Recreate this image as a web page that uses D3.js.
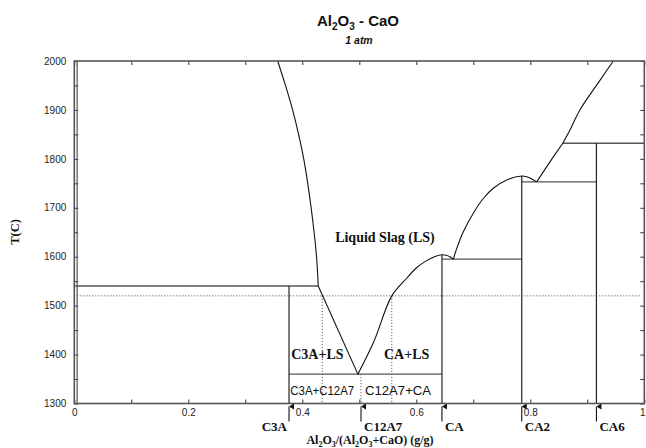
<!DOCTYPE html>
<html>
<head>
<meta charset="utf-8">
<script src="https://cdn.jsdelivr.net/npm/d3@7"></script>
<style>
  body { margin: 0; background: #fff; }
  svg { display: block; }
</style>
</head>
<body>
<svg id="chart" width="646" height="448"></svg>
<script>
// ---- Al2O3 - CaO phase diagram (1 atm) ----

// axis ticks
const xMajorTicks = [0, 0.2, 0.4, 0.6, 0.8, 1];
const xMinorTicks = [0.1, 0.3, 0.5, 0.7, 0.9];
const xTickLabels = ["0", "0.2", "0.4", "0.6", "0.8", "1"];
const yMajorTicks = [1300, 1400, 1500, 1600, 1700, 1800, 1900, 2000];
const yMinorTicks = [1350, 1450, 1550, 1650, 1750, 1850, 1950];
const yTickLabels = ["1300", "1400", "1500", "1600", "1700", "1800", "1900", "2000"];

// compounds: name, Al2O3 mass fraction, top of the solid line (C)
const compoundNames = ["C3A", "C12A7", "CA", "CA2", "CA6"];
const compoundX = [0.3767, 0.503, 0.645, 0.785, 0.916];
const compoundTop = [1540, 1360, 1604, 1765, 1832];

// liquidus branches [composition, temperature]
const caoLiquidus = [[0.3568, 2000], [0.3705, 1950], [0.3830, 1900], [0.3935, 1850],
  [0.4025, 1800], [0.4095, 1750], [0.4155, 1700], [0.4207, 1650], [0.4250, 1600],
  [0.428, 1540]];
const c3aLiquidus = [[0.428, 1540], [0.4975, 1360]];
const caLiquidus = [[0.4975, 1360], [0.525, 1425], [0.557, 1520], [0.583, 1556],
  [0.600, 1577], [0.618, 1592], [0.632, 1600], [0.645, 1604], [0.652, 1603],
  [0.659, 1600], [0.665, 1595]];
const ca2Liquidus = [[0.665, 1595], [0.671, 1617], [0.6825, 1651], [0.700, 1689],
  [0.7175, 1719], [0.735, 1740], [0.7586, 1757], [0.785, 1765], [0.7937, 1763.5],
  [0.8025, 1759], [0.8112, 1753]];
const ca6Liquidus = [[0.8112, 1753], [0.8403, 1804], [0.857, 1832]];
const aluminaLiquidus = [[0.857, 1832], [0.8696, 1859], [0.887, 1900],
  [0.9225, 1961], [0.9456, 2000]];

// invariant (horizontal) lines: from, to, temperature
const invariantFrom = [0, 0.3767, 0.645, 0.785, 0.857];
const invariantTo = [0.428, 0.645, 0.785, 0.916, 1];
const invariantT = [1540, 1360, 1595, 1753, 1832];

// dotted guides at 1520 C
const guideT = 1520;
const guideX = [0.435, 0.557];

// ---- scales ----
const svg = d3.select("#chart");
const x = d3.scaleLinear().domain([0, 1]).range([74.3, 644.3]);
const y = d3.scaleLinear().domain([1300, 2000]).range([403.5, 61]);

const sans = "'Liberation Sans', Arial, sans-serif";
const serif = "'Liberation Serif', 'Times New Roman', serif";

// ---- axes (ticks pointing inward) ----
const xAll = xMajorTicks.concat(xMinorTicks).sort(d3.ascending);
const yAll = yMajorTicks.concat(yMinorTicks).sort(d3.ascending);
const xFmt = d => { const i = xMajorTicks.indexOf(d); return i >= 0 ? xTickLabels[i] : ""; };
const yFmt = d => { const i = yMajorTicks.indexOf(d); return i >= 0 ? yTickLabels[i] : ""; };

function styleAxis(g) {
  g.select(".domain").remove();
  g.selectAll(".tick line").attr("stroke", "#333").attr("stroke-width", 1);
  g.selectAll(".tick text").attr("fill", "#222").style("font-family", sans).style("font-size", "10px");
}

const xAxisG = svg.append("g").attr("transform", `translate(0,${y(1300)})`)
  .call(d3.axisBottom(x).tickValues(xAll).tickSize(-4).tickPadding(5).tickFormat(xFmt))
  .call(styleAxis);
// keep the last label inside the page
xAxisG.selectAll(".tick text").filter(d => d === 1).attr("dx", -2);

svg.append("g").attr("transform", `translate(0,${y(2000)})`)
  .call(d3.axisTop(x).tickValues(xAll).tickSize(-4).tickFormat(""))
  .call(styleAxis);
svg.append("g").attr("transform", `translate(${x(0)},0)`)
  .call(d3.axisLeft(y).tickValues(yAll).tickSize(-4).tickPadding(8).tickFormat(yFmt))
  .call(styleAxis);
svg.append("g").attr("transform", `translate(${x(1)},0)`)
  .call(d3.axisRight(y).tickValues(yAll).tickSize(-4).tickFormat(""))
  .call(styleAxis);

// ---- dotted guides ----
const dotted = svg.append("g").attr("stroke", "#444").attr("stroke-width", 1)
  .attr("stroke-dasharray", "1,2").attr("fill", "none");
dotted.append("line").attr("x1", x(0) + 3).attr("x2", x(1) - 4)
  .attr("y1", y(guideT)).attr("y2", y(guideT));
guideX.forEach(g => {
  dotted.append("line").attr("x1", x(g)).attr("x2", x(g))
    .attr("y1", y(guideT)).attr("y2", y(1300));
});
// C12A7 below the eutectic
dotted.append("line").attr("x1", x(compoundX[1])).attr("x2", x(compoundX[1]))
  .attr("y1", y(compoundTop[1])).attr("y2", y(1300));

// ---- invariant lines ----
const inv = svg.append("g").attr("stroke", "#555").attr("stroke-width", 1.4);
invariantT.forEach((t, i) => {
  inv.append("line").attr("x1", x(invariantFrom[i])).attr("x2", x(invariantTo[i]))
    .attr("y1", y(t)).attr("y2", y(t));
});

// ---- compound solid lines ----
const solids = svg.append("g").attr("stroke", "#222").attr("stroke-width", 1.2);
compoundNames.forEach((n, i) => {
  if (n === "C12A7") return;
  solids.append("line").attr("x1", x(compoundX[i])).attr("x2", x(compoundX[i]))
    .attr("y1", y(1300)).attr("y2", y(compoundTop[i]));
});
// pure CaO side
solids.append("line").attr("x1", x(0.005)).attr("x2", x(0.005))
  .attr("y1", y(1300)).attr("y2", y(2000)).attr("stroke", "#555");

// ---- liquidus ----
const smoothY = d3.line().x(d => x(d[0])).y(d => y(d[1])).curve(d3.curveMonotoneY);
const smooth = d3.line().x(d => x(d[0])).y(d => y(d[1])).curve(d3.curveCatmullRom.alpha(0.5));
const straight = d3.line().x(d => x(d[0])).y(d => y(d[1]));
const liq = svg.append("g").attr("fill", "none").attr("stroke", "#111").attr("stroke-width", 1.1);
liq.append("path").attr("d", smoothY(caoLiquidus));
liq.append("path").attr("d", straight(c3aLiquidus));
liq.append("path").attr("d", smooth(caLiquidus));
liq.append("path").attr("d", smooth(ca2Liquidus));
liq.append("path").attr("d", straight(ca6Liquidus));
liq.append("path").attr("d", smooth(aluminaLiquidus));

// ---- frame ----
svg.append("rect").attr("x", x(0)).attr("y", y(2000))
  .attr("width", x(1) - x(0)).attr("height", y(1300) - y(2000))
  .attr("fill", "none").attr("stroke", "#555").attr("stroke-width", 1.6);

// ---- phase-field labels ----
const bold = (sel, size) => sel.style("font-family", serif).style("font-weight", "bold")
  .style("font-size", size + "px").attr("fill", "#111").attr("text-anchor", "middle");
svg.append("text").attr("x", x(0.545)).attr("y", y(1631)).text("Liquid Slag (LS)").call(bold, 14);
svg.append("text").attr("x", x(0.4265)).attr("y", y(1390)).text("C3A+LS").call(bold, 14);
svg.append("text").attr("x", x(0.583)).attr("y", y(1390)).text("CA+LS").call(bold, 14);
svg.append("text").attr("x", x(0.435)).attr("y", y(1317))
  .style("font-family", sans).style("font-size", "13px").attr("fill", "#111")
  .attr("textLength", 64).attr("lengthAdjust", "spacingAndGlyphs")
  .attr("text-anchor", "middle").text("C3A+C12A7");
svg.append("text").attr("x", x(0.568)).attr("y", y(1317))
  .style("font-family", sans).style("font-size", "13px").attr("fill", "#111")
  .attr("textLength", 66).attr("lengthAdjust", "spacingAndGlyphs")
  .attr("text-anchor", "middle").text("C12A7+CA");

// ---- compound markers under the axis ----
svg.append("defs").append("marker").attr("id", "arrow")
  .attr("viewBox", "0 0 6 6").attr("refX", 3).attr("refY", 0)
  .attr("markerWidth", 6).attr("markerHeight", 6).attr("orient", "auto-start-reverse")
  .attr("markerUnits", "userSpaceOnUse")
  .append("path").attr("d", "M0,5 L3,0 L6,5 Z").attr("fill", "#111");
const base = y(1300);
compoundNames.forEach((n, i) => {
  const cx = x(compoundX[i]);
  svg.append("line").attr("x1", cx).attr("x2", cx)
    .attr("y1", base + 18).attr("y2", base + 3)
    .attr("stroke", "#111").attr("stroke-width", 1.1).attr("marker-end", "url(#arrow)");
  const t = svg.append("text").attr("y", base + 27).text(n)
    .style("font-family", serif).style("font-weight", "bold").style("font-size", "13px")
    .attr("fill", "#111");
  if (i === 0) t.attr("x", cx - 2).attr("text-anchor", "end");
  else t.attr("x", cx + 3).attr("text-anchor", "start");
});

// ---- titles ----
const title = svg.append("text").attr("x", 358).attr("y", 26).attr("text-anchor", "middle")
  .style("font-family", sans).style("font-weight", "bold").style("font-size", "15px").attr("fill", "#111");
title.append("tspan").text("Al");
title.append("tspan").attr("dy", 4).style("font-size", "10px").text("2");
title.append("tspan").attr("dy", -4).text("O");
title.append("tspan").attr("dy", 4).style("font-size", "10px").text("3");
title.append("tspan").attr("dy", -4).text(" - CaO");

svg.append("text").attr("x", 359).attr("y", 44).attr("text-anchor", "middle")
  .style("font-family", sans).style("font-weight", "bold").style("font-style", "italic")
  .style("font-size", "10.5px").attr("fill", "#111").text("1 atm");

const xt = svg.append("text").attr("x", 370).attr("y", 444).attr("text-anchor", "middle")
  .style("font-family", serif).style("font-weight", "bold").style("font-size", "12px").attr("fill", "#111");
xt.append("tspan").text("Al");
xt.append("tspan").attr("dy", 3).style("font-size", "8px").text("2");
xt.append("tspan").attr("dy", -3).text("O");
xt.append("tspan").attr("dy", 3).style("font-size", "8px").text("3");
xt.append("tspan").attr("dy", -3).text("/(Al");
xt.append("tspan").attr("dy", 3).style("font-size", "8px").text("2");
xt.append("tspan").attr("dy", -3).text("O");
xt.append("tspan").attr("dy", 3).style("font-size", "8px").text("3");
xt.append("tspan").attr("dy", -3).text("+CaO) (g/g)");

svg.append("text").attr("transform", "translate(19,232) rotate(-90)").attr("text-anchor", "middle")
  .style("font-family", serif).style("font-weight", "bold").style("font-size", "12.5px")
  .attr("fill", "#111").text("T(C)");
</script>
</body>
</html>
